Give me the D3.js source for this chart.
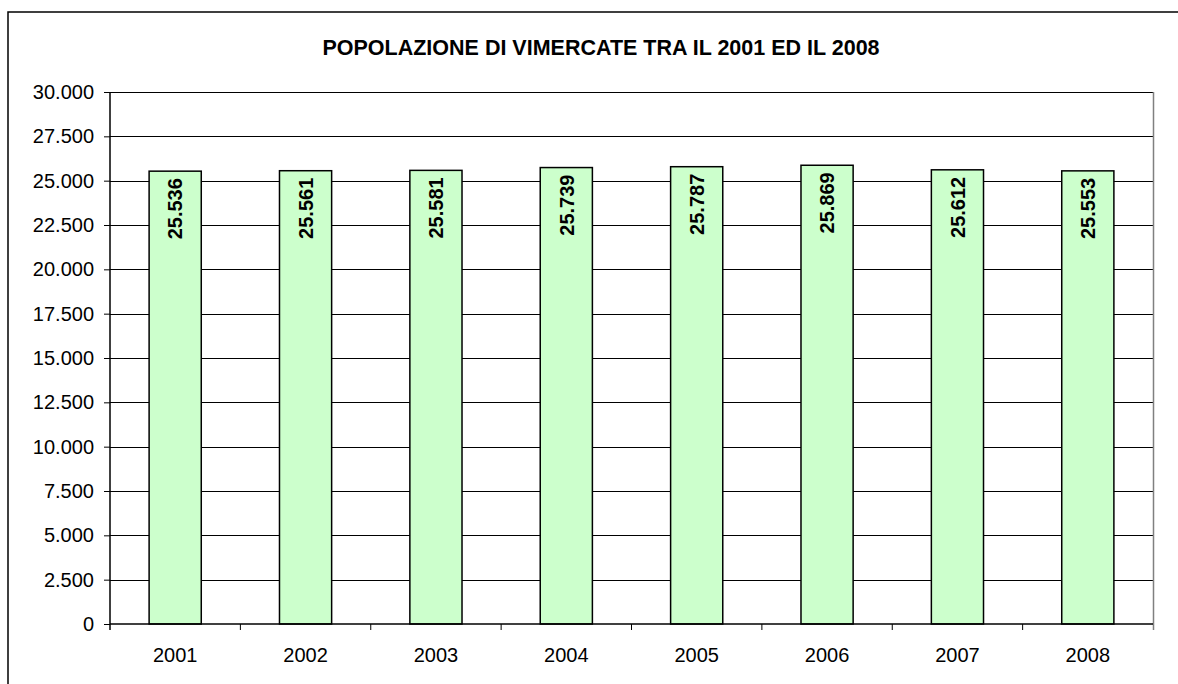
<!DOCTYPE html>
<html>
<head>
<meta charset="utf-8">
<script src="https://cdn.jsdelivr.net/npm/d3@7"></script>
<style>
  body { margin: 0; background: #fff; }
  svg { display: block; font-family: "Liberation Sans", Arial, sans-serif; }
</style>
</head>
<body>
<svg id="chart" width="1178" height="684"></svg>
<script>
// dati: popolazione residente
const anni = ["2001", "2002", "2003", "2004", "2005", "2006", "2007", "2008"];
const popolazione = [25536, 25561, 25581, 25739, 25787, 25869, 25612, 25553];
const yTicks = [0, 2500, 5000, 7500, 10000, 12500, 15000, 17500, 20000, 22500, 25000, 27500, 30000];
const titolo = "POPOLAZIONE DI VIMERCATE TRA IL 2001 ED IL 2008";

const svg = d3.select("#chart");

// area del grafico
const pLeft = 110, pRight = 1153, pTop = 92, pBottom = 624;

const x = d3.scaleBand()
    .domain(anni)
    .range([pLeft, pRight])
    .paddingInner(0.6)
    .paddingOuter(0.3);

const y = d3.scaleLinear()
    .domain([0, 30000])
    .range([pBottom, pTop]);

// formato italiano: punto per le migliaia
const fmt = d3.formatLocale({ decimal: ",", thousands: ".", grouping: [3], currency: ["€", ""] }).format(",d");

// cornice esterna
svg.append("rect")
    .attr("x", 8).attr("y", 12)
    .attr("width", 1200).attr("height", 700)
    .attr("fill", "none")
    .attr("stroke", "#000")
    .attr("stroke-width", 1.5);

// titolo
svg.append("text")
    .attr("x", 601).attr("y", 55)
    .attr("text-anchor", "middle")
    .style("font-size", "21.5px")
    .style("font-weight", "bold")
    .text(titolo);

// griglia orizzontale
svg.append("g")
    .selectAll("line")
    .data(yTicks.filter(d => d > 0))
    .enter().append("line")
    .attr("x1", pLeft).attr("x2", pRight)
    .attr("y1", d => Math.round(y(d)) + 0.5)
    .attr("y2", d => Math.round(y(d)) + 0.5)
    .attr("stroke", "#000")
    .attr("stroke-width", 1);

// bordo destro dell'area
svg.append("line")
    .attr("x1", pRight + 0.5).attr("x2", pRight + 0.5)
    .attr("y1", pTop).attr("y2", pBottom + 6)
    .attr("stroke", "#808080")
    .attr("stroke-width", 1.5);

// barre
svg.append("g")
    .selectAll("rect")
    .data(popolazione)
    .enter().append("rect")
    .attr("x", (d, i) => x(anni[i]))
    .attr("y", d => y(d))
    .attr("width", x.bandwidth())
    .attr("height", d => pBottom - y(d))
    .attr("fill", "#CCFFCC")
    .attr("stroke", "#000")
    .attr("stroke-width", 1.5);

// asse y
const yAxis = svg.append("g")
    .attr("transform", `translate(${pLeft},0)`)
    .call(d3.axisLeft(y).tickValues(yTicks).tickFormat(fmt).tickSize(6).tickPadding(10));
yAxis.select(".domain").remove();
yAxis.append("line")
    .attr("x1", 0).attr("x2", 0)
    .attr("y1", pTop).attr("y2", pBottom + 6)
    .attr("stroke", "#000").attr("stroke-width", 1.5);
yAxis.selectAll(".tick line").attr("stroke", "#000");
yAxis.selectAll("text")
    .attr("fill", "#000")
    .style("font-size", "20px");

// asse x
const confini = d3.range(anni.length + 1).map(i => pLeft + i * (pRight - pLeft) / anni.length);
svg.append("line")
    .attr("x1", pLeft).attr("x2", pRight)
    .attr("y1", pBottom).attr("y2", pBottom)
    .attr("stroke", "#000").attr("stroke-width", 1.5);
svg.append("g")
    .selectAll("line")
    .data(confini.slice(1, -1))
    .enter().append("line")
    .attr("x1", d => d).attr("x2", d => d)
    .attr("y1", pBottom).attr("y2", pBottom + 6)
    .attr("stroke", "#000");
svg.append("g")
    .selectAll("text")
    .data(anni)
    .enter().append("text")
    .attr("x", d => x(d) + x.bandwidth() / 2)
    .attr("y", 662)
    .attr("text-anchor", "middle")
    .style("font-size", "20px")
    .text(d => d);

// etichette dei valori, ruotate
svg.append("g")
    .selectAll("text")
    .data(popolazione)
    .enter().append("text")
    .attr("transform", (d, i) => `translate(${x(anni[i]) + x.bandwidth() / 2},${y(d) + 7}) rotate(-90)`)
    .attr("text-anchor", "end")
    .attr("dy", "0.36em")
    .style("font-size", "20px")
    .style("font-weight", "bold")
    .text(d => fmt(d));
</script>
</body>
</html>
